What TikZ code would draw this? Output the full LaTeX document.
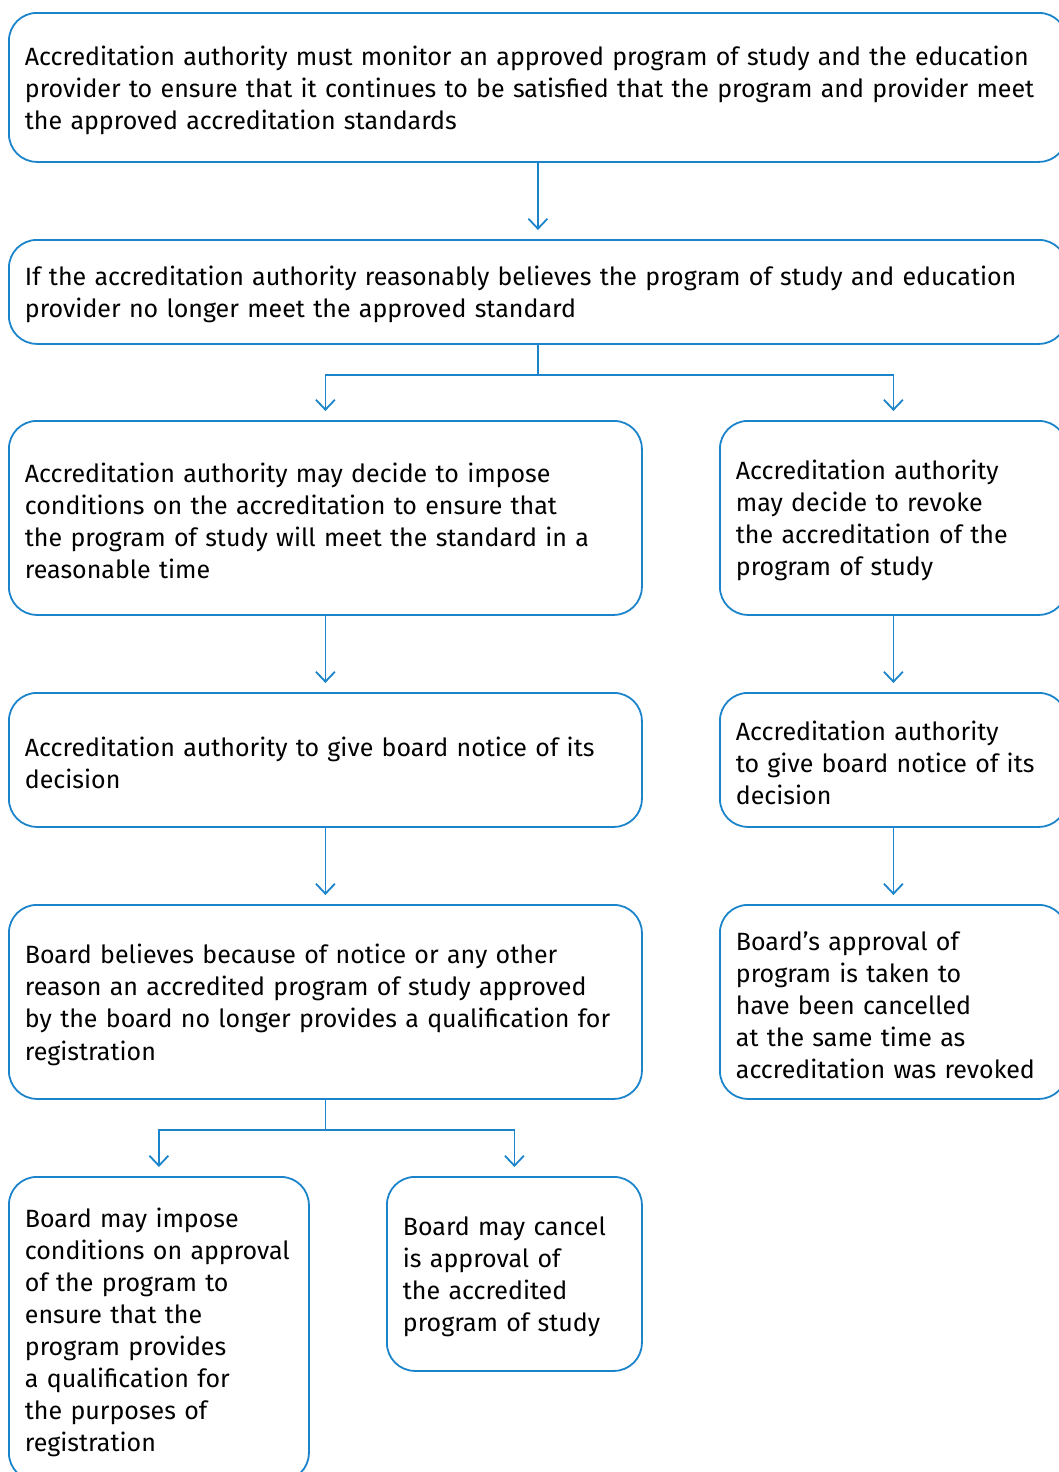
\documentclass[tikz,border=0pt]{standalone}
\usepackage{fontspec}
\setmainfont{Fira Sans}
\usetikzlibrary{arrows.meta}
\definecolor{flowblue}{RGB}{28,132,202}
\tikzset{
  box/.style={draw=flowblue, line width=0.9pt, rounded corners=14pt, anchor=north west,
    align=left, inner xsep=8pt, inner ysep=0pt, font=\fontsize{12.5}{16}\selectfont,
    execute at end node={\par\kern-3pt}},
  link/.style={draw=flowblue, line width=0.9pt},
  arr/.style={link, -{Straight Barb[length=5pt,width=9.5pt,line width=0.9pt]}, shorten >=4.5pt}
}
\begin{document}
\begin{tikzpicture}[x=0.5pt,y=-0.5pt]
\useasboundingbox (0,0) rectangle (1059,1472);
\clip (0,0) rectangle (1059,1472);
% top of the chart
\node[box, text width=513pt, minimum height=74.5pt] (b1) at (8,12)
  {Accreditation authority must monitor an approved program of study and the education\\
   provider to ensure that it continues to be satisfied that the program and provider meet\\
   the approved accreditation standards};
\node[box, text width=513pt, minimum height=52pt] (b2) at (8,239)
  {If the accreditation authority reasonably believes the program of study and education\\
   provider no longer meet the approved standard};
% left column
\node[box, text width=300.5pt, minimum height=97pt] (b3l) at (8,420)
  {Accreditation authority may decide to impose\\
   conditions on the accreditation to ensure that\\
   the program of study will meet the standard in a\\
   reasonable time};
\node[box, text width=300.5pt, minimum height=67pt] (b4l) at (8,692)
  {Accreditation authority to give board notice of its\\
   decision};
\node[box, text width=300.5pt, minimum height=97pt] (b5l) at (8,904)
  {Board believes because of notice or any other\\
   reason an accredited program of study approved\\
   by the board no longer provides a qualification for\\
   registration};
\node[box, text width=134pt, minimum height=152pt] (b6l) at (8,1176)
  {Board may impose\\
   conditions on approval\\
   of the program to\\
   ensure that the\\
   program provides\\
   a qualification for\\
   the purposes of\\
   registration};
\node[box, text width=111.5pt, minimum height=97pt] (b6m) at (386,1176)
  {Board may cancel\\
   is approval of\\
   the accredited\\
   program of study};
% right column
\node[box, text width=157.5pt, minimum height=97pt] (b3r) at (719,420)
  {Accreditation authority\\
   may decide to revoke\\
   the accreditation of the\\
   program of study};
\node[box, text width=157.5pt, minimum height=67pt] (b4r) at (719,692)
  {Accreditation authority\\
   to give board notice of its\\
   decision};
\node[box, text width=157.5pt, minimum height=97pt] (b5r) at (719,904)
  {Board's approval of\\
   program is taken to\\
   have been cancelled\\
   at the same time as\\
   accreditation was revoked};
% connectors
\draw[arr] (b1.south) -- (b2.north);
\draw[link] (b2.south) -- ++(0,30) coordinate (fork1);
\draw[arr] (fork1) -| (b3l.north);
\draw[arr] (fork1) -| (b3r.north);
\draw[arr] (b3l.south) -- (b4l.north);
\draw[arr] (b4l.south) -- (b5l.north);
\draw[arr] (b3r.south) -- (b4r.north);
\draw[arr] (b4r.south) -- (b5r.north);
\draw[link] (b5l.south) -- ++(0,30) coordinate (fork2);
\draw[arr] (fork2) -| (b6l.north);
\draw[arr] (fork2) -| (b6m.north);
\end{tikzpicture}
\end{document}
